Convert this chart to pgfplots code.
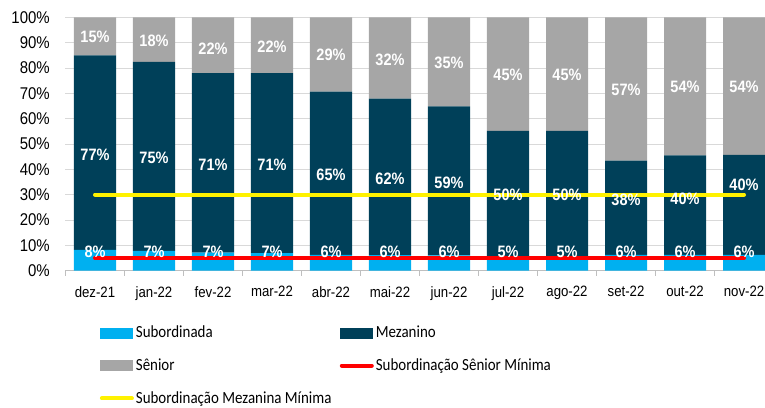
\documentclass[border=0pt]{standalone}
\usepackage{pgfplots}
\pgfplotsset{compat=1.18}
\usepackage{fontspec}
\setmainfont{Liberation Sans}[FakeStretch=0.88]
\newfontfamily\legfont{Carlito}[FakeStretch=0.88]
\definecolor{csub}{HTML}{00B0F0}
\definecolor{cmez}{HTML}{004059}
\definecolor{csen}{HTML}{A6A6A6}
\definecolor{cgrid}{HTML}{D9D9D9}
\definecolor{caxis}{HTML}{BFBFBF}
\begin{document}
\begin{tikzpicture}
\path[use as bounding box] (-65.5pt,-136.3pt) rectangle (699.5pt,270.7pt);
\pgfplotsset{
  base/.style={scale only axis, width=699.5pt, height=253.4pt,
    xmin=-0.5, xmax=11.356, ymin=0, ymax=100, at={(0,0)}, anchor=south west},
  /pgf/number format/assume math mode=true,
}
\begin{axis}[base, ybar stacked, bar width=0.712,
  axis lines*=left,
  y axis line style={draw=none},
  x axis line style={draw=caxis, line width=0.8pt},
  ymajorgrids, grid style={cgrid, line width=0.8pt},
  ytick={0,10,...,100},
  yticklabel={\fontsize{17}{19}\selectfont\pgfmathprintnumber{\tick}\%},
  ytick style={draw=none},
  xtick={0,...,11},
  xticklabels={dez-21,jan-22,fev-22,mar-22,abr-22,mai-22,jun-22,jul-22,ago-22,set-22,out-22,nov-22},
  major x tick style={draw=none},
  minor xtick={-0.5,0.5,...,11.5},
  minor x tick style={draw=caxis, line width=0.8pt},
  minor tick length=5pt,
  tick align=outside,
  yticklabel style={xshift=-8pt},
  xticklabel style={yshift=-8pt, font=\fontsize{15}{18}\selectfont},
]
\addplot[fill=csub, draw=none] table[x=x,y=v] {
x v
0 8.2
1 7.8
2 7.1
3 6.9
4 6.2
5 6.1
6 6.0
7 5.4
8 5.4
9 6.2
10 6.2
11 6.2
};
\addplot[fill=cmez, draw=none] table[x=x,y=v] {
x v
0 76.8
1 74.6
2 70.9
3 71.1
4 64.5
5 61.8
6 58.8
7 49.8
8 49.8
9 37.2
10 39.3
11 39.5
};
\addplot[fill=csen, draw=none] table[x=x,y=v] {
x v
0 15.0
1 17.6
2 22.0
3 22.0
4 29.3
5 32.1
6 35.2
7 44.8
8 44.8
9 56.6
10 54.5
11 54.3
};
\end{axis}
\begin{axis}[base, hide axis,
  legend columns=2,
  legend cell align=left,
  legend style={draw=none, fill=none, at={(0.0486,-0.21)}, anchor=north west,
    font=\legfont\fontsize{17}{20}\selectfont, inner sep=0pt,
    nodes={inner sep=2pt}, row sep=15.5pt,
    /tikz/every even column/.append style={column sep=6pt}},
  legend entries={Subordinada, Mezanino, Sênior, Subordinação Sênior Mínima, Subordinação Mezanina Mínima},
]
\addlegendimage{legend image code/.code={\fill[csub] (0pt,-5pt) rectangle (32pt,5pt);}}
\addlegendimage{legend image code/.code={\fill[cmez] (0pt,-5pt) rectangle (32pt,5pt);}}
\addlegendimage{legend image code/.code={\fill[csen] (0pt,-5pt) rectangle (32pt,5pt);}}
\addplot[red, line width=4pt, line cap=round,
  legend image code/.code={\draw[red, line width=4pt, line cap=round] (2pt,0pt) -- (32pt,0pt);}] table[x=x,y=v] {
x v
0 5
1 5
2 5
3 5
4 5
5 5
6 5
7 5
8 5
9 5
10 5
11 5
};
\addplot[yellow, line width=4pt, line cap=round,
  legend image code/.code={\draw[yellow, line width=4pt, line cap=round] (2pt,0pt) -- (32pt,0pt);}] table[x=x,y=v] {
x v
0 30
1 30
2 30
3 30
4 30
5 30
6 30
7 30
8 30
9 30
10 30
11 30
};
\pgfplotsset{lab/.style={forget plot, only marks, mark=none, point meta=explicit,
  nodes near coords={\pgfmathprintnumber[fixed,precision=0]{\pgfplotspointmeta}\%},
  every node near coord/.append style={anchor=center, text=white,
    font=\bfseries\fontsize{16.5}{19}\selectfont}}}
\addplot[lab] table[x=x,y=y,meta=v] {
x y v
0 7.6 8
1 7.6 7
2 7.6 7
3 7.6 7
4 7.6 6
5 7.6 6
6 7.6 6
7 7.6 5
8 7.6 5
9 7.6 6
10 7.6 6
11 7.6 6
};
\addplot[lab] table[x=x,y=y,meta=v] {
x y v
0 45.7 77
1 44.4 75
2 41.8 71
3 41.8 71
4 37.8 65
5 36.2 62
6 34.8 59
7 30 50
8 30 50
9 28 38
10 28.3 40
11 34 40
};
\addplot[lab] table[x=x,y=y,meta=v] {
x y v
0 92.2 15
1 90.8 18
2 87.6 22
3 88.5 22
4 85 29
5 83.3 32
6 82 35
7 77.2 45
8 77.2 45
9 71.4 57
10 72.5 54
11 72.5 54
};
\end{axis}
\end{tikzpicture}
\end{document}
